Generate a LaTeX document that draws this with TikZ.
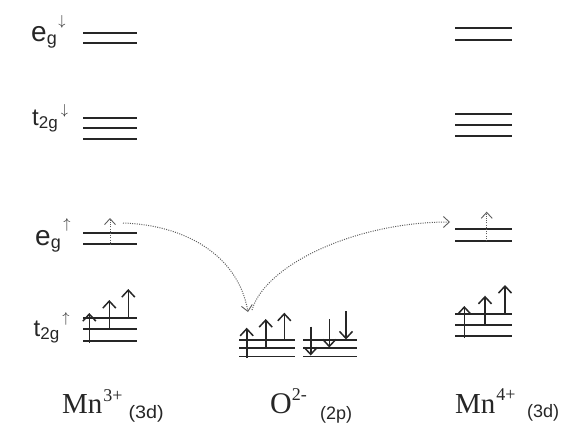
\documentclass[tikz,border=0pt]{standalone}
\usepackage{fontspec}
\newfontfamily\labsans{Liberation Sans}
\newfontfamily\labserif{Liberation Serif}
\usetikzlibrary{arrows.meta}
\definecolor{ink}{HTML}{262626}
\definecolor{dotgray}{HTML}{5E5E5E}
\begin{document}
\begin{tikzpicture}[x=1pt,y=-1pt,
  level/.style={line width=1.8pt, draw=ink},
  spin/.style={line width=1.6pt, draw=ink, -{Straight Barb[length=7pt,width=13pt,line width=1.5pt]}},
  spindot/.style={line width=1pt, draw=dotgray, dash pattern=on 1pt off 1.2pt, -{Straight Barb[length=6pt,width=11pt,line width=0.9pt]}},
  trans/.style={line width=1pt, draw=dotgray, dash pattern=on 1pt off 1.3pt, -{Straight Barb[length=6pt,width=11pt,line width=0.9pt]}},
  lbl/.style={anchor=base west, inner sep=0pt, text=ink},
  ]
\useasboundingbox (0,0) rectangle (564,428);

% ---------- labels of levels ----------
\node[lbl] (lab-egdn) at (31,41.5) {\labsans\fontsize{28}{28}\selectfont e\raisebox{-3pt}{\fontsize{18}{18}\selectfont g}\kern1.5pt\raisebox{15.5pt}{\fontsize{15}{15}\selectfont$\downarrow$}};
\node[lbl] (lab-t2dn) at (32,125) {\labsans\fontsize{24}{24}\selectfont t\raisebox{-3.5pt}{\fontsize{17}{17}\selectfont 2g}\kern3pt\raisebox{11pt}{\fontsize{14}{14}\selectfont$\downarrow$}};
\node[lbl] (lab-egup) at (35,245) {\labsans\fontsize{28}{28}\selectfont e\raisebox{-3.5pt}{\fontsize{18}{18}\selectfont g}\kern2.5pt\raisebox{16.5pt}{\fontsize{15}{15}\selectfont$\uparrow$}};
\node[lbl] (lab-t2up) at (33.5,336) {\labsans\fontsize{24}{24}\selectfont t\raisebox{-3.5pt}{\fontsize{17}{17}\selectfont 2g}\kern3pt\raisebox{13.5pt}{\fontsize{14}{14}\selectfont$\uparrow$}};

% ---------- Mn3+ levels ----------
\foreach \y in {33,43.3,118,128.3,139.3,233.3,244,318.3,329.3,340.7}
  \draw[level] (83,\y) -- (137,\y);
% ---------- Mn4+ levels ----------
\foreach \y in {28.3,40,114,125,136,229.3,240.7,314.3,325,336}
  \draw[level] (455,\y) -- (512,\y);
% ---------- O 2p levels ----------
\foreach \y in {340,348.2,356.5}{
  \draw[level] (239,\y) -- (295,\y);
  \draw[level] (303,\y) -- (357,\y);
}

% ---------- spins Mn3+ ----------
\draw[spin] (89.3,343) -- (89.3,313);
\draw[spin] (109.3,329.3) -- (109.3,300);
\draw[spin] (128.3,318.3) -- (128.3,289);
\coordinate (mn3foot) at (110,245);
\coordinate (mn3head) at (110,218);
\draw[spindot] (mn3foot) -- (mn3head);

% ---------- spins Mn4+ ----------
\draw[spin] (464.3,338) -- (464.3,306);
\draw[spin] (485,325) -- (485,295.7);
\draw[spin] (505,314.3) -- (505,285);
\coordinate (mn4foot) at (486.7,241);
\coordinate (mn4head) at (486.7,211.7);
\draw[spindot] (mn4foot) -- (mn4head);

% ---------- spins O ----------
\draw[spin] (246.7,358) -- (246.7,327.7);
\draw[spin] (265.7,348.2) -- (265.7,319);
\draw[spin] (284.3,340) -- (284.3,312.7);
\draw[spin] (310.7,326.7) -- (310.7,355.5);
\draw[spin] (329.3,319) -- (329.3,347.5);
\draw[spin] (346,311) -- (346,339.5);

% ---------- electron transfer ----------
\coordinate (mn3eg) at (123,223);
\coordinate (oin) at (248,312);
\coordinate (oout) at (252,310);
\coordinate (mn4eg) at (450,222);
\draw[trans] (mn3eg) .. controls (185,225) and (238,255) .. (oin);
\draw[trans] (oout) .. controls (265,265) and (355,222) .. (mn4eg);

% ---------- ion labels ----------
\node[lbl] (ion-mn3) at (62,413.3) {\labserif\fontsize{29}{29}\selectfont Mn\kern1pt\raisebox{11.6pt}{\fontsize{18}{18}\selectfont 3+}};
\node[lbl] (orb-mn3) at (128.3,418.5) {\labsans\fontsize{18}{18}\selectfont\scalebox{1.1}[1]{(3d)}};
\node[lbl] (ion-o) at (270,413) {\labserif\fontsize{30}{30}\selectfont O\raisebox{13pt}{\fontsize{18}{18}\selectfont 2-}};
\node[lbl] (orb-o) at (320,419.5) {\labsans\fontsize{18}{18}\selectfont (2p)};
\node[lbl] (ion-mn4) at (455,413.3) {\labserif\fontsize{29}{29}\selectfont Mn\kern1pt\raisebox{13.3pt}{\fontsize{18}{18}\selectfont 4+}};
\node[lbl] (orb-mn4) at (527,417) {\labsans\fontsize{18}{18}\selectfont (3d)};
\end{tikzpicture}
\end{document}
